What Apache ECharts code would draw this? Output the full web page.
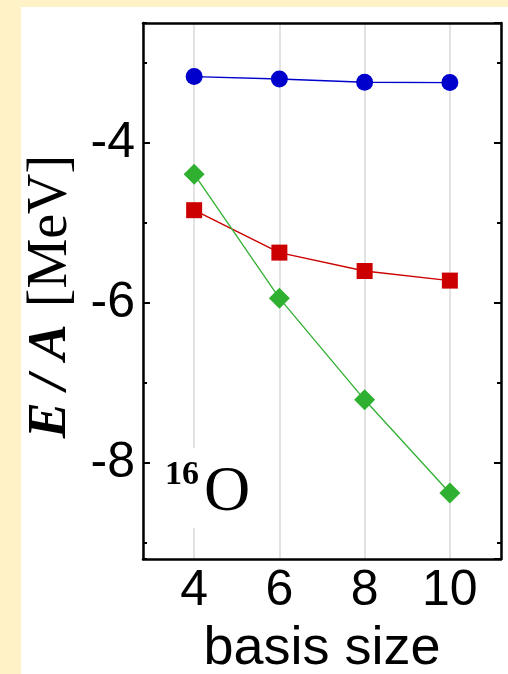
<!DOCTYPE html>
<html><head><meta charset="utf-8">
<script src="https://cdn.jsdelivr.net/npm/echarts@6/dist/echarts.min.js"></script>
<style>
html,body{margin:0;padding:0;background:#FFF2C7;}
#bg{position:absolute;left:21px;top:7px;width:487px;height:667px;background:#fff;}
#c{position:absolute;left:0;top:0;width:508px;height:674px;}
</style>
</head><body><div id="bg"></div><div id="c"></div>
<script>
// ---- data ----
const basisSizes = [4, 6, 8, 10];
const blueValues = [-3.17, -3.20, -3.24, -3.245];
const redValues = [-4.84, -5.37, -5.60, -5.72];
const greenValues = [-4.39, -5.94, -7.21, -8.375];
const xRange = [2.8, 11.2];
const yRange = [-9.2, -2.5];
const nucleusMass = '16';
const nucleusSymbol = 'O';
const xName = 'basis size';
const yName = '{e|E}{s|/}{a|A}{sp| }{r|[MeV]}';

const pairs = vals => basisSizes.map((x, i) => [x, vals[i]]);
const sans = 'Liberation Sans, Arial, sans-serif';
const serif = 'Liberation Serif, Times New Roman, serif';

function yAx(pos, step, len, showLine, showLabel) {
  return {
    type: 'value', position: pos, min: yRange[0], max: yRange[1],
    minInterval: step, maxInterval: step, z: 5,
    axisLine: {show: showLine, lineStyle: {color: '#000', width: 2.5}},
    axisTick: {show: true, inside: true, length: len, lineStyle: {color: '#000', width: 2}},
    axisLabel: {show: showLabel, showMinLabel: false, showMaxLabel: false, fontSize: 50, fontFamily: sans, color: '#000', margin: 8},
    splitLine: {show: false}
  };
}
const yAxes = [yAx('left', 2, 7, true, true), yAx('left', 1, 4, false, false), yAx('right', 2, 7, true, false), yAx('right', 1, 4, false, false)];

const mathStyle = {fontSize: 54, fontFamily: serif, fontStyle: 'italic', fontWeight: 'bold', color: '#000', align: 'center'};

const chart = echarts.init(document.getElementById('c'), null, {renderer: 'canvas'});
chart.setOption({
  backgroundColor: 'transparent',
  animation: false,
  grid: {left: 143, right: 7, top: 23, bottom: 115, show: false, outerBoundsMode: 'none', containLabel: false},
  xAxis: [{
    type: 'value', position: 'bottom', min: xRange[0], max: xRange[1], minInterval: 2, maxInterval: 2, z: 1,
    axisLine: {show: true, lineStyle: {color: '#000', width: 2.5}},
    axisTick: {show: false},
    axisLabel: {showMinLabel: false, showMaxLabel: false, fontSize: 50, fontFamily: sans, color: '#000', margin: 7},
    splitLine: {show: true, lineStyle: {color: '#d9d9d9', width: 1.5}},
    name: xName, nameLocation: 'middle', nameGap: 63,
    nameTextStyle: {fontSize: 54, fontFamily: sans, color: '#000'}
  }, {
    type: 'value', position: 'top', min: xRange[0], max: xRange[1], z: 5,
    axisLine: {show: true, lineStyle: {color: '#000', width: 2.5}},
    axisTick: {show: false}, axisLabel: {show: false}, splitLine: {show: false}
  }],
  yAxis: yAxes,
  series: [
    {type: 'line', data: pairs(blueValues), symbol: 'circle', symbolSize: 17,
     itemStyle: {color: '#0000CC'}, lineStyle: {color: '#0000CC', width: 1.4}},
    {type: 'line', data: pairs(redValues), symbol: 'rect', symbolSize: 16,
     itemStyle: {color: '#CC0000'}, lineStyle: {color: '#CC0000', width: 1.4}},
    {type: 'line', data: pairs(greenValues), symbol: 'diamond', symbolSize: 21,
     itemStyle: {color: '#30B030'}, lineStyle: {color: '#30B030', width: 1.3}}
  ],
  graphic: [
    {type: 'text', z: 5, x: 51, y: 300, rotation: Math.PI / 2, style: {
      text: yName, align: 'center', verticalAlign: 'middle', fill: '#000',
      font: '54px ' + serif,
      rich: {
        e: Object.assign({}, mathStyle, {width: 50}),
        s: Object.assign({}, mathStyle, {width: 26}),
        a: Object.assign({}, mathStyle, {width: 54}),
        sp: {fontSize: 54, fontFamily: serif, width: 8},
        r: {fontSize: 56, fontFamily: serif, color: '#000'}
      }
    }},
    {type: 'rect', z: 4, shape: {x: 158, y: 448, width: 98, height: 80}, style: {fill: '#fff'}},
    {type: 'text', z: 5, x: 165, y: 475, style: {text: nucleusMass, font: 'bold 34px ' + serif, fill: '#000', textAlign: 'left', textVerticalAlign: 'middle'}},
    {type: 'text', z: 5, x: 204, y: 493, style: {text: nucleusSymbol, font: '64px ' + serif, fill: '#000', textAlign: 'left', textVerticalAlign: 'middle'}}
  ]
});
</script>
</body></html>
